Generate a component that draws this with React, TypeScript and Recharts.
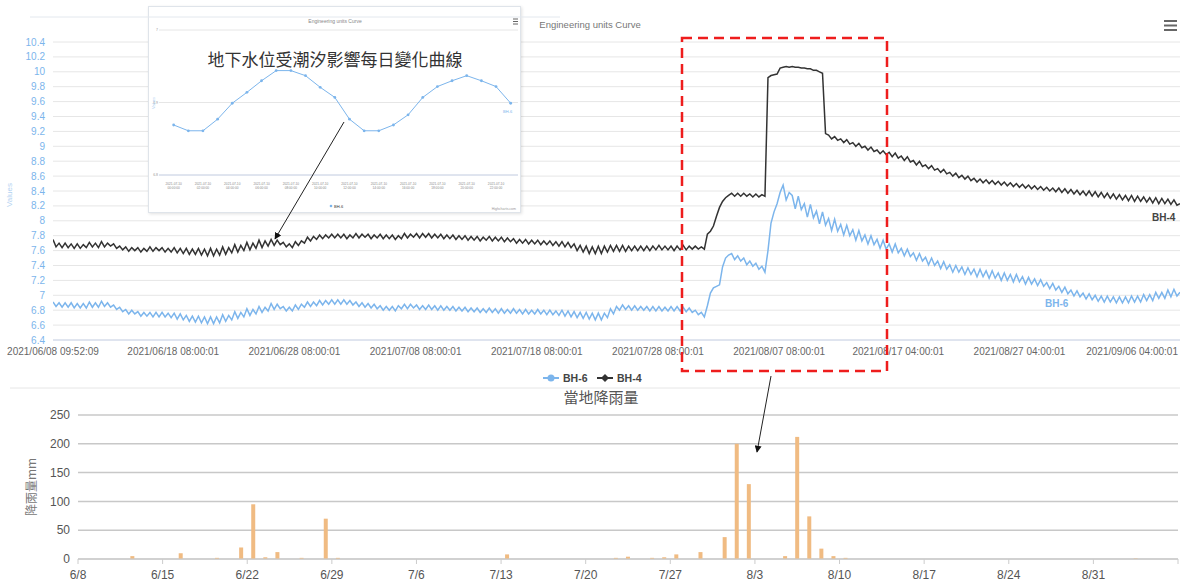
import React from 'react';
import { LineChart, Line, XAxis, YAxis, CartesianGrid, BarChart, Bar } from 'recharts';

// groundwater level (m), one reading every 6 hours starting 2021/06/08 09:52:09
const bh4Level = [
  7.75, 7.65, 7.70, 7.64, 7.70, 7.64, 7.69, 7.63,
  7.69, 7.63, 7.68, 7.64, 7.71, 7.65, 7.70, 7.64,
  7.72, 7.65, 7.70, 7.66, 7.69, 7.63, 7.66, 7.61,
  7.65, 7.59, 7.64, 7.60, 7.64, 7.58, 7.63, 7.59,
  7.65, 7.59, 7.64, 7.60, 7.64, 7.58, 7.63, 7.58,
  7.64, 7.57, 7.63, 7.56, 7.63, 7.55, 7.62, 7.55,
  7.63, 7.54, 7.62, 7.53, 7.63, 7.53, 7.62, 7.54,
  7.65, 7.55, 7.64, 7.57, 7.68, 7.58, 7.67, 7.60,
  7.71, 7.61, 7.70, 7.63, 7.74, 7.64, 7.73, 7.66,
  7.75, 7.67, 7.74, 7.68, 7.71, 7.65, 7.69, 7.64,
  7.72, 7.67, 7.73, 7.70, 7.78, 7.73, 7.79, 7.75,
  7.81, 7.76, 7.81, 7.77, 7.82, 7.77, 7.82, 7.77,
  7.82, 7.76, 7.81, 7.77, 7.83, 7.77, 7.82, 7.78,
  7.82, 7.76, 7.81, 7.77, 7.82, 7.76, 7.81, 7.76,
  7.81, 7.75, 7.80, 7.76, 7.83, 7.77, 7.82, 7.78,
  7.83, 7.77, 7.83, 7.78, 7.83, 7.77, 7.82, 7.77,
  7.82, 7.76, 7.81, 7.76, 7.81, 7.75, 7.80, 7.75,
  7.80, 7.74, 7.79, 7.74, 7.79, 7.73, 7.78, 7.74,
  7.79, 7.73, 7.78, 7.73, 7.78, 7.72, 7.77, 7.72,
  7.76, 7.70, 7.75, 7.70, 7.75, 7.69, 7.74, 7.69,
  7.74, 7.68, 7.73, 7.68, 7.73, 7.67, 7.72, 7.66,
  7.72, 7.65, 7.71, 7.64, 7.69, 7.60, 7.67, 7.58,
  7.66, 7.56, 7.65, 7.56, 7.66, 7.56, 7.66, 7.58,
  7.67, 7.59, 7.67, 7.59, 7.67, 7.59, 7.66, 7.60,
  7.66, 7.60, 7.66, 7.60, 7.66, 7.60, 7.66, 7.61,
  7.67, 7.61, 7.66, 7.61, 7.66, 7.60, 7.66, 7.61,
  7.67, 7.61, 7.66, 7.62, 7.66, 7.62, 7.65, 7.62,
  7.82, 7.86, 7.93, 8.06, 8.18, 8.26, 8.31, 8.34,
  8.37, 8.33, 8.37, 8.33, 8.37, 8.33, 8.36, 8.32,
  8.36, 8.32, 8.35, 8.33, 9.92, 9.95, 9.96, 9.97,
  10.05, 10.06, 10.07, 10.06, 10.07, 10.06, 10.06, 10.05,
  10.05, 10.04, 10.04, 10.02, 10.02, 10.00, 9.98, 9.17,
  9.15, 9.10, 9.13, 9.08, 9.10, 9.05, 9.09, 9.03,
  9.05, 9.00, 9.04, 8.98, 9.00, 8.95, 8.99, 8.93,
  8.95, 8.90, 8.94, 8.89, 8.92, 8.86, 8.91, 8.84,
  8.87, 8.81, 8.86, 8.79, 8.81, 8.75, 8.80, 8.73,
  8.75, 8.70, 8.74, 8.68, 8.70, 8.65, 8.69, 8.63,
  8.65, 8.60, 8.64, 8.58, 8.61, 8.56, 8.60, 8.54,
  8.57, 8.52, 8.56, 8.51, 8.55, 8.50, 8.54, 8.49,
  8.53, 8.48, 8.52, 8.47, 8.51, 8.46, 8.50, 8.45,
  8.49, 8.44, 8.48, 8.43, 8.47, 8.42, 8.46, 8.41,
  8.45, 8.40, 8.44, 8.39, 8.44, 8.38, 8.43, 8.37,
  8.42, 8.36, 8.41, 8.35, 8.40, 8.34, 8.40, 8.33,
  8.39, 8.32, 8.38, 8.31, 8.37, 8.30, 8.36, 8.29,
  8.35, 8.28, 8.34, 8.27, 8.34, 8.26, 8.33, 8.26,
  8.32, 8.25, 8.31, 8.24, 8.31, 8.23, 8.30, 8.23,
  8.29, 8.22, 8.28, 8.21, 8.23,
];

const bh6Level = [
  6.91, 6.85, 6.90, 6.84, 6.90, 6.84, 6.90, 6.83,
  6.89, 6.83, 6.89, 6.83, 6.91, 6.84, 6.90, 6.84,
  6.92, 6.85, 6.90, 6.84, 6.87, 6.81, 6.84, 6.78,
  6.81, 6.75, 6.80, 6.75, 6.78, 6.72, 6.77, 6.72,
  6.77, 6.71, 6.77, 6.71, 6.77, 6.71, 6.76, 6.70,
  6.76, 6.68, 6.75, 6.67, 6.73, 6.65, 6.72, 6.64,
  6.72, 6.63, 6.71, 6.62, 6.71, 6.62, 6.71, 6.63,
  6.74, 6.65, 6.73, 6.67, 6.78, 6.69, 6.77, 6.71,
  6.82, 6.73, 6.81, 6.75, 6.85, 6.77, 6.84, 6.79,
  6.89, 6.81, 6.88, 6.82, 6.85, 6.79, 6.84, 6.79,
  6.87, 6.81, 6.88, 6.84, 6.91, 6.85, 6.91, 6.86,
  6.93, 6.87, 6.93, 6.88, 6.94, 6.88, 6.94, 6.88,
  6.94, 6.88, 6.93, 6.87, 6.91, 6.85, 6.90, 6.84,
  6.89, 6.83, 6.88, 6.82, 6.86, 6.80, 6.85, 6.80,
  6.85, 6.79, 6.86, 6.82, 6.88, 6.82, 6.88, 6.83,
  6.87, 6.81, 6.86, 6.81, 6.87, 6.81, 6.86, 6.80,
  6.86, 6.80, 6.85, 6.80, 6.85, 6.79, 6.84, 6.79,
  6.84, 6.78, 6.83, 6.78, 6.83, 6.77, 6.82, 6.77,
  6.83, 6.77, 6.82, 6.76, 6.82, 6.76, 6.81, 6.76,
  6.82, 6.76, 6.81, 6.75, 6.81, 6.75, 6.80, 6.75,
  6.81, 6.75, 6.80, 6.74, 6.80, 6.74, 6.79, 6.73,
  6.80, 6.72, 6.79, 6.71, 6.78, 6.70, 6.77, 6.69,
  6.77, 6.68, 6.76, 6.67, 6.76, 6.67, 6.76, 6.70,
  6.82, 6.75, 6.85, 6.80, 6.87, 6.81, 6.86, 6.80,
  6.86, 6.80, 6.85, 6.80, 6.85, 6.79, 6.85, 6.79,
  6.85, 6.79, 6.84, 6.79, 6.85, 6.79, 6.85, 6.79,
  6.84, 6.78, 6.83, 6.77, 6.80, 6.74, 6.77, 6.71,
  6.86, 7.03, 7.10, 7.12, 7.14, 7.38, 7.50, 7.54,
  7.56, 7.48, 7.53, 7.46, 7.50, 7.41, 7.46, 7.39,
  7.43, 7.35, 7.39, 7.31, 7.60, 7.97, 8.12, 8.23,
  8.38, 8.48, 8.28, 8.38, 8.34, 8.16, 8.33, 8.15,
  8.23, 8.05, 8.22, 8.04, 8.13, 7.96, 8.12, 7.94,
  8.03, 7.87, 8.02, 7.86, 7.95, 7.81, 7.94, 7.80,
  7.88, 7.74, 7.87, 7.73, 7.81, 7.69, 7.80, 7.68,
  7.75, 7.63, 7.74, 7.62, 7.69, 7.58, 7.69, 7.57,
  7.63, 7.53, 7.62, 7.52, 7.57, 7.47, 7.56, 7.46,
  7.51, 7.41, 7.50, 7.40, 7.46, 7.36, 7.45, 7.35,
  7.41, 7.31, 7.40, 7.31, 7.38, 7.28, 7.37, 7.28,
  7.35, 7.25, 7.35, 7.25, 7.33, 7.23, 7.33, 7.23,
  7.30, 7.20, 7.30, 7.20, 7.28, 7.18, 7.28, 7.18,
  7.25, 7.15, 7.24, 7.15, 7.22, 7.13, 7.21, 7.12,
  7.17, 7.09, 7.16, 7.07, 7.12, 7.04, 7.11, 7.02,
  7.07, 6.99, 7.06, 6.98, 7.03, 6.95, 7.02, 6.94,
  7.00, 6.92, 6.99, 6.91, 6.99, 6.91, 6.98, 6.90,
  6.98, 6.90, 6.98, 6.90, 6.99, 6.91, 6.99, 6.91,
  7.01, 6.93, 7.01, 6.93, 7.04, 6.96, 7.04, 6.96,
  7.07, 6.98, 7.08, 6.99, 7.04,
];

const levelTicks = [6.4, 6.6, 6.8, 7, 7.2, 7.4, 7.6, 7.8, 8, 8.2, 8.4, 8.6, 8.8, 9, 9.2, 9.4, 9.6, 9.8, 10, 10.2, 10.4];
const timeLabels = [
  '2021/06/08 09:52:09', '2021/06/18 08:00:01', '2021/06/28 08:00:01', '2021/07/08 08:00:01',
  '2021/07/18 08:00:01', '2021/07/28 08:00:01', '2021/08/07 08:00:01', '2021/08/17 04:00:01',
  '2021/08/27 04:00:01', '2021/09/06 04:00:01',
];

// inset: one day of hourly BH-6 readings
const tideHours = [
  '2021-07-10 00:00:00', '2021-07-10 01:00:00', '2021-07-10 02:00:00', '2021-07-10 03:00:00',
  '2021-07-10 04:00:00', '2021-07-10 05:00:00', '2021-07-10 06:00:00', '2021-07-10 07:00:00',
  '2021-07-10 08:00:00', '2021-07-10 09:00:00', '2021-07-10 10:00:00', '2021-07-10 11:00:00',
  '2021-07-10 12:00:00', '2021-07-10 13:00:00', '2021-07-10 14:00:00', '2021-07-10 15:00:00',
  '2021-07-10 16:00:00', '2021-07-10 17:00:00', '2021-07-10 18:00:00', '2021-07-10 19:00:00',
  '2021-07-10 20:00:00', '2021-07-10 21:00:00', '2021-07-10 22:00:00', '2021-07-10 23:00:00',
];
const tideLevel = [
  6.869, 6.861, 6.861, 6.877, 6.899, 6.914, 6.930, 6.944, 6.944, 6.937, 6.921, 6.907,
  6.877, 6.861, 6.861, 6.869, 6.883, 6.907, 6.922, 6.930, 6.937, 6.930, 6.922, 6.899,
];
const tideTicks = [6.8, 6.9, 7.0];

// daily rainfall (mm)
const rainDates = [
  '6/12', '6/16', '6/19', '6/21', '6/22', '6/23', '6/24', '6/26', '6/28', '6/29', '7/13',
  '7/22', '7/23', '7/25', '7/26', '7/27', '7/29', '7/31', '8/1', '8/2', '8/5', '8/6',
  '8/7', '8/8', '8/9', '8/10', '9/3',
];
const rainMm = [
  5, 10, 2, 20, 95, 3, 12, 2, 70, 2, 8,
  2, 4, 2, 3, 8, 12, 38, 200, 130, 5, 212,
  74, 18, 5, 2, 1,
];
const rainTickLabels = ['6/8', '6/15', '6/22', '6/29', '7/6', '7/13', '7/20', '7/27', '8/3', '8/10', '8/17', '8/24', '8/31', '9/7'];
const rainAxisTicks = [0, 50, 100, 150, 200, 250];

const DAY = 86400000;
const toMs = (s: string) => {
  const [d, t = '00:00:00'] = s.split(' ');
  const [y, m, dd] = d.split(/[\/-]/).map(Number);
  const [hh, mi, ss] = t.split(':').map(Number);
  return Date.UTC(y, m - 1, dd, hh, mi, ss);
};
const START = toMs(timeLabels[0]);
const STEP_DAYS = 0.25;

const levelData = bh4Level.map((v, i) => ({ t: i * STEP_DAYS, bh4: v, bh6: bh6Level[i] }));
const timeTickPos = timeLabels.map(s => (toMs(s) - START) / DAY);

const tideData = tideLevel.map((v, i) => ({ i, v }));
const tideTickIdx = tideHours.map((_, i) => i).filter(i => i % 2 === 0);

const dayOf = (md: string) => {
  const [m, d] = md.split('/').map(Number);
  return (Date.UTC(2021, m - 1, d) - Date.UTC(2021, 5, 8)) / DAY;
};
// each bar sits in the middle of its day
const rainData = rainDates.map((d, i) => ({ x: dayOf(d) + 0.5, mm: rainMm[i] }));
const rainTickPos = rainTickLabels.map(dayOf);

const BLUE = '#7cb5ec';
const DARK = '#333';
const LATIN = '"Liberation Sans", Arial, sans-serif';
const CJK = '"Noto Sans CJK TC", "Noto Sans", sans-serif';

// keep the last time label inside the frame
const TimeTick = (props: any) => {
  const { x, y, payload } = props;
  const i = timeTickPos.indexOf(payload.value);
  const label = i >= 0 ? timeLabels[i] : '';
  const nearEdge = x + 46 > 1178;
  return (
    <text x={nearEdge ? 1178 : x} y={y} dy="0.71em" textAnchor={nearEdge ? 'end' : 'middle'} fontSize={10} fill="#666">
      {label}
    </text>
  );
};

const TideTick = (props: any) => {
  const { x, y, payload } = props;
  const [d, t] = tideHours[payload.value].split(' ');
  return (
    <text x={x} y={y + 2} textAnchor="middle" fontSize={3.2} fill="#888">
      <tspan x={x} dy={0}>{d}</tspan>
      <tspan x={x} dy={4}>{t}</tspan>
    </text>
  );
};

const App: React.FC = () => {
  return (
    <div style={{ position: 'absolute', left: 0, top: 0, width: 1180, height: 583, background: '#fff', overflow: 'hidden', fontFamily: LATIN }}>
      {/* water level chart */}
      <div style={{ position: 'absolute', left: 0, top: 0 }}>
        <LineChart width={1180} height={390} data={levelData} margin={{ top: 42, right: 0, bottom: 0, left: 0 }}>
          <CartesianGrid vertical={false} stroke="#e6e6e6" />
          <XAxis
            dataKey="t"
            type="number"
            domain={[0, 93]}
            ticks={timeTickPos}
            interval={0}
            tick={<TimeTick />}
            tickLine={false}
            axisLine={{ stroke: '#ccd6eb' }}
            height={50}
            allowDataOverflow
          />
          <YAxis
            domain={[6.4, 10.4]}
            ticks={levelTicks}
            interval={0}
            width={53}
            tick={{ fontSize: 10, fill: BLUE }}
            tickFormatter={v => String(+Number(v).toFixed(1))}
            axisLine={false}
            tickLine={false}
            allowDataOverflow
          />
          <Line dataKey="bh6" type="linear" stroke={BLUE} strokeWidth={1.5} dot={false} isAnimationActive={false} />
          <Line dataKey="bh4" type="linear" stroke={DARK} strokeWidth={1.5} dot={false} isAnimationActive={false} />
        </LineChart>
      </div>

      {/* rainfall chart */}
      <div style={{ position: 'absolute', left: 0, top: 383 }}>
        <BarChart width={1180} height={200} data={rainData} margin={{ top: 32, right: 2, bottom: 0, left: 0 }}>
          <CartesianGrid vertical={false} stroke="#c8c8c8" strokeWidth={1.5} />
          <XAxis
            dataKey="x"
            type="number"
            domain={[0, 91]}
            ticks={rainTickPos}
            interval={0}
            tickFormatter={(v, i) => (i < rainTickLabels.length - 1 ? rainTickLabels[i] : '')}
            tick={{ fontSize: 12, fill: '#555' }}
            tickLine={{ stroke: '#ccc' }}
            tickSize={5}
            tickMargin={6}
            axisLine={{ stroke: '#ccc' }}
            height={24}
          />
          <YAxis
            domain={[0, 250]}
            ticks={rainAxisTicks}
            interval={0}
            width={78}
            tick={{ fontSize: 12, fill: '#555' }}
            axisLine={false}
            tickLine={false}
          />
          <Bar dataKey="mm" fill="#f0bb82" barSize={4} isAnimationActive={false} />
        </BarChart>
      </div>

      {/* inset: daily tidal cycle */}
      <div style={{ position: 'absolute', left: 148, top: 6, width: 373, height: 207, boxSizing: 'border-box', background: '#fff', border: '1px solid #dfe4ea', boxShadow: '1px 1px 3px rgba(0,0,0,0.12)' }}>
        <LineChart width={371} height={205} data={tideData} margin={{ top: 23, right: 2, bottom: 0, left: 0 }}>
          <CartesianGrid vertical={false} stroke="#e6e6e6" />
          <XAxis
            dataKey="i"
            type="number"
            domain={[-1, 23.5]}
            ticks={tideTickIdx}
            interval={0}
            tick={<TideTick />}
            tickLine={false}
            axisLine={{ stroke: '#ccd6eb' }}
            height={37}
          />
          <YAxis
            domain={[6.8, 7.0]}
            ticks={tideTicks}
            interval={0}
            width={10}
            tick={{ fontSize: 3.5, fill: '#999' }}
            tickSize={0}
            tickMargin={1}
            axisLine={false}
            tickLine={false}
          />
          <Line dataKey="v" type="linear" stroke={BLUE} strokeWidth={1} dot={{ r: 1.4, fill: BLUE, stroke: BLUE, strokeWidth: 0 }} isAnimationActive={false} />
        </LineChart>
      </div>

      {/* titles, legend and annotations */}
      <svg width={1180} height={583} style={{ position: 'absolute', left: 0, top: 0, pointerEvents: 'none' }}>
        <defs>
          <marker id="arrow" viewBox="0 0 10 10" refX="9" refY="5" markerWidth="7" markerHeight="7" orient="auto">
            <path d="M0,0 L10,5 L0,10 z" fill="#111" />
          </marker>
        </defs>

        <line x1={30} y1={17} x2={560} y2={17} stroke="#e3e8ee" />
        <line x1={10} y1={388} x2={1180} y2={388} stroke="#e6e6e6" />

        <text x={590} y={28} textAnchor="middle" fontSize={9.5} fill="#777">Engineering units Curve</text>
        <g stroke="#666" strokeWidth={2}>
          <line x1={1164} y1={21} x2={1177} y2={21} />
          <line x1={1164} y1={25.5} x2={1177} y2={25.5} />
          <line x1={1164} y1={30} x2={1177} y2={30} />
        </g>
        <text transform="translate(12,195) rotate(-90)" textAnchor="middle" fontSize={8} fill="#b3d3f2">Values</text>

        <text x={1152} y={221} fontSize={10} fontWeight="bold" fill="#444">BH-4</text>
        <text x={1045} y={307} fontSize={10} fontWeight="bold" fill={BLUE}>BH-6</text>

        {/* legend */}
        <line x1={543} y1={378} x2={559} y2={378} stroke={BLUE} strokeWidth={2} />
        <circle cx={551} cy={378} r={3.5} fill={BLUE} />
        <text x={563} y={382} fontSize={10.5} fontWeight="bold" fill="#444">BH-6</text>
        <line x1={597} y1={378} x2={613} y2={378} stroke={DARK} strokeWidth={2} />
        <path d="M605,374 L609,378 L605,382 L601,378 Z" fill={DARK} />
        <text x={617} y={382} fontSize={10.5} fontWeight="bold" fill="#444">BH-4</text>

        {/* inset decorations */}
        <text x={335} y={23} textAnchor="middle" fontSize={5} fill="#888">Engineering units Curve</text>
        <g stroke="#666" strokeWidth={1}>
          <line x1={513} y1={19} x2={518} y2={19} />
          <line x1={513} y1={21.5} x2={518} y2={21.5} />
          <line x1={513} y1={24} x2={518} y2={24} />
        </g>
        <text x={335} y={66} textAnchor="middle" fontSize={17} fill="#333" fontFamily={CJK}>地下水位受潮汐影響每日變化曲線</text>
        <text transform="translate(155,103) rotate(-90)" textAnchor="middle" fontSize={4} fill="#a9cdf0">Values</text>
        <text x={503} y={113} fontSize={4} fill={BLUE}>BH-6</text>
        <circle cx={331} cy={206} r={1.3} fill={BLUE} />
        <text x={334} y={207.5} fontSize={4} fill="#333">BH-6</text>
        <text x={516} y={210} textAnchor="end" fontSize={3.5} fill="#999">Highcharts.com</text>

        {/* highlighted rain event */}
        <rect x={682} y={38} width={205} height={333} fill="none" stroke="#ee1d1d" strokeWidth={2.5} strokeDasharray="10 6" />
        <line x1={344} y1={122} x2={275} y2={239} stroke="#222" strokeWidth={1} markerEnd="url(#arrow)" />
        <line x1={771} y1={376} x2={757} y2={452} stroke="#222" strokeWidth={1} markerEnd="url(#arrow)" />

        {/* rainfall titles */}
        <text x={601} y={403} textAnchor="middle" fontSize={15} fill="#555" fontFamily={CJK}>當地降雨量</text>
        <text transform="translate(36,487) rotate(-90)" textAnchor="middle" fontSize={12} fill="#777" fontFamily={CJK}>降雨量mm</text>
      </svg>
    </div>
  );
};

export default App;
